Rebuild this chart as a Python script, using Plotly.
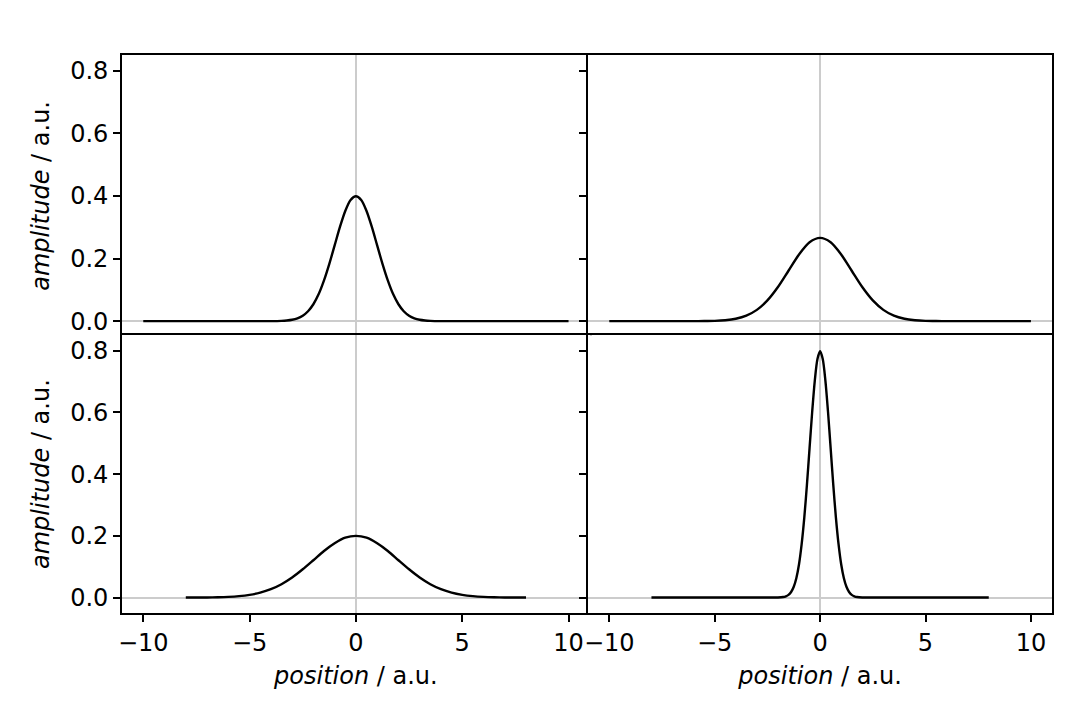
import plotly.graph_objects as go
from plotly.subplots import make_subplots

# Panel A (top-left): narrow-ish peak, x from -10 to 10
xa = [-10, -6, -4.5, -4, -3.5, -3.25, -3, -2.75, -2.5, -2.25, -2, -1.75, -1.5, -1.25, -1, -0.75, -0.5, -0.25, 0,
      0.25, 0.5, 0.75, 1, 1.25, 1.5, 1.75, 2, 2.25, 2.5, 2.75, 3, 3.25, 3.5, 4, 4.5, 6, 10]
ya = [0, 0, 0.0000, 0.0001, 0.0009, 0.0020, 0.0044, 0.0091, 0.0175, 0.0317, 0.054, 0.0863, 0.130, 0.183, 0.242, 0.301, 0.352, 0.387, 0.399,
      0.387, 0.352, 0.301, 0.242, 0.183, 0.130, 0.0863, 0.054, 0.0317, 0.0175, 0.0091, 0.0044, 0.0020, 0.0009, 0.0001, 0.0000, 0, 0]

# Panel B (top-right): broader peak, x from -10 to 10
xb = [-10, -7, -6, -5.5, -5, -4.5, -4, -3.5, -3, -2.5, -2, -1.5, -1, -0.5, 0,
      0.5, 1, 1.5, 2, 2.5, 3, 3.5, 4, 4.5, 5, 5.5, 6, 7, 10]
yb = [0, 0, 0.0001, 0.0003, 0.0010, 0.0030, 0.0076, 0.0175, 0.036, 0.0663, 0.109, 0.161, 0.213, 0.252, 0.266,
      0.252, 0.213, 0.161, 0.109, 0.0663, 0.036, 0.0175, 0.0076, 0.0030, 0.0010, 0.0003, 0.0001, 0, 0]

# Panel C (bottom-left): broad low peak, x from -8 to 8
xc = [-8, -7.5, -7, -6.5, -6, -5.5, -5, -4.5, -4, -3.5, -3, -2.5, -2, -1.5, -1, -0.5, 0,
      0.5, 1, 1.5, 2, 2.5, 3, 3.5, 4, 4.5, 5, 5.5, 6, 6.5, 7, 7.5, 8]
yc = [0.0001, 0.0002, 0.0004, 0.0010, 0.0022, 0.0046, 0.0088, 0.0159, 0.0271, 0.0433, 0.0649, 0.0916, 0.121, 0.151, 0.176, 0.194, 0.200,
      0.194, 0.176, 0.151, 0.121, 0.0916, 0.0649, 0.0433, 0.0271, 0.0159, 0.0088, 0.0046, 0.0022, 0.0010, 0.0004, 0.0002, 0.0001]

# Panel D (bottom-right): very narrow tall peak, x from -8 to 8
xd = [-8, -3, -2.5, -2, -1.75, -1.625, -1.5, -1.375, -1.25, -1.125, -1, -0.875, -0.75, -0.625, -0.5, -0.375, -0.25, -0.125, 0,
      0.125, 0.25, 0.375, 0.5, 0.625, 0.75, 0.875, 1, 1.125, 1.25, 1.375, 1.5, 1.625, 1.75, 2, 2.5, 3, 8]
yd = [0, 0, 0.0000, 0.0003, 0.0017, 0.0041, 0.0089, 0.0182, 0.035, 0.0635, 0.108, 0.173, 0.259, 0.365, 0.484, 0.602, 0.704, 0.773, 0.798,
      0.773, 0.704, 0.602, 0.484, 0.365, 0.259, 0.173, 0.108, 0.0635, 0.035, 0.0182, 0.0089, 0.0041, 0.0017, 0.0003, 0.0000, 0, 0]

x_ticks = [-10, -5, 0, 5, 10]
y_ticks = [0.0, 0.2, 0.4, 0.6, 0.8]
x_range = [-11, 11]
y_range = [-0.05, 0.85]

FONT = "DejaVu Sans"
FS = 24
LW = 1.6

W, H = 1080, 720
ML, MR, MT, MB = 122, 28, 55, 107
PW = W - ML - MR
PH = H - MT - MB
ox = LW / PW   # overlap so shared borders coincide
oy = LW / PH
cx = 0.5 + 2 / PW   # split position between columns
cy = 0.5 - 2 / PH   # split position between rows

fig = make_subplots(rows=2, cols=2, horizontal_spacing=0, vertical_spacing=0)

panels = [(xa, ya, 1, 1), (xb, yb, 1, 2), (xc, yc, 2, 1), (xd, yd, 2, 2)]
for xs, ys, r, c in panels:
    fig.add_trace(go.Scatter(x=xs, y=ys, mode="lines",
                             line=dict(color="black", width=2.4, shape="spline", smoothing=0.8),
                             showlegend=False, hoverinfo="skip"), row=r, col=c)

xdom = {1: [0, cx + ox / 2], 2: [cx - ox / 2, 1]}
ydom = {1: [cy - oy / 2, 1], 2: [0, cy + oy / 2]}

for r in (1, 2):
    for c in (1, 2):
        fig.update_xaxes(row=r, col=c, range=x_range, tickvals=x_ticks, domain=xdom[c],
                         tickformat="d",
                         showline=True, mirror=True, linecolor="black", linewidth=LW,
                         showgrid=False, zeroline=True, zerolinecolor="#cccccc", zerolinewidth=2,
                         ticks="outside" if r == 2 else "", ticklen=7, tickwidth=LW, tickcolor="black",
                         showticklabels=(r == 2),
                         tickfont=dict(family=FONT, size=FS, color="black"))
        fig.update_yaxes(row=r, col=c, range=y_range, tickvals=y_ticks, tickformat=".1f", domain=ydom[r],
                         showline=True, mirror=True, linecolor="black", linewidth=LW,
                         showgrid=False, zeroline=True, zerolinecolor="#cccccc", zerolinewidth=2,
                         ticks="outside", ticklen=7, tickwidth=LW, tickcolor="black",
                         showticklabels=(c == 1),
                         tickfont=dict(family=FONT, size=FS, color="black"))

tfont = dict(family=FONT, size=FS, color="black")
fig.update_xaxes(row=2, col=1, title=dict(text="<i>position</i> / a.u.", font=tfont, standoff=12))
fig.update_xaxes(row=2, col=2, title=dict(text="<i>position</i> / a.u.", font=tfont, standoff=12))
fig.update_yaxes(row=1, col=1, title=dict(text="<i>amplitude</i> / a.u.", font=tfont, standoff=14))
fig.update_yaxes(row=2, col=1, title=dict(text="<i>amplitude</i> / a.u.", font=tfont, standoff=14))

fig.update_layout(width=W, height=H,
                  margin=dict(l=ML, r=MR, t=MT, b=MB, autoexpand=False),
                  paper_bgcolor="white", plot_bgcolor="white",
                  font=dict(family=FONT, size=FS, color="black"))

fig.write_html("out.html")
